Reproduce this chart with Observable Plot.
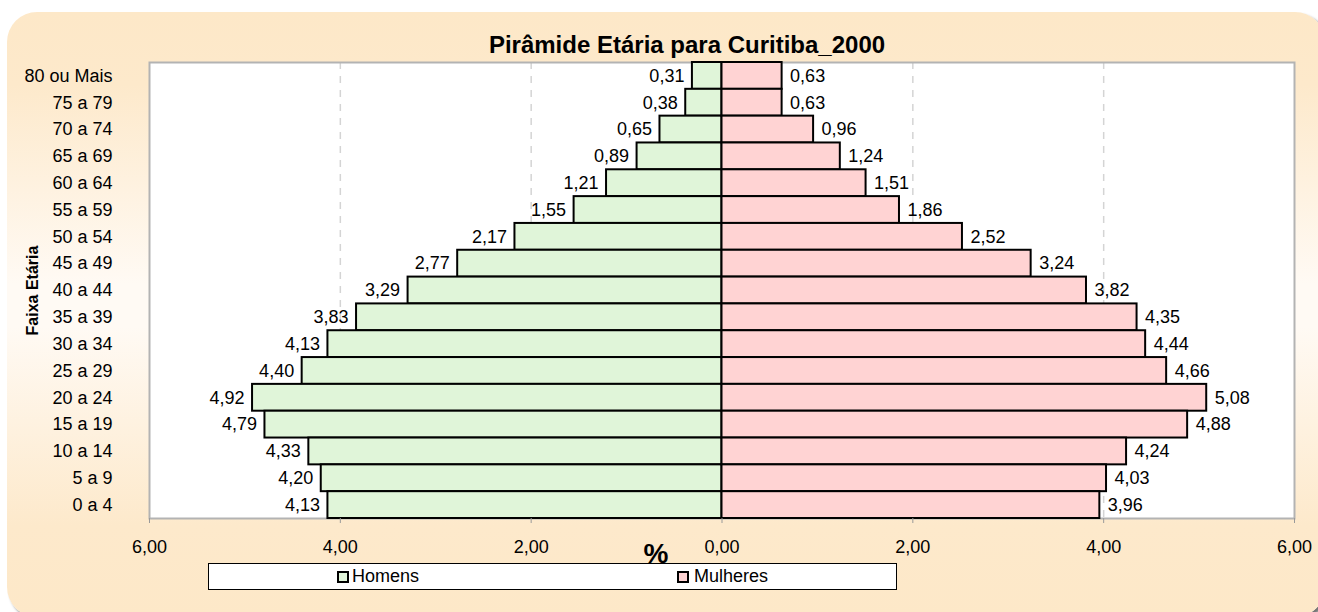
<!DOCTYPE html>
<html><head><meta charset="utf-8">
<script src="https://cdn.jsdelivr.net/npm/d3@7"></script>
<script src="https://cdn.jsdelivr.net/npm/@observablehq/plot@0.6"></script>
<style>
body{margin:0;background:#fff;}
#wrap{position:relative;width:1318px;height:612px;overflow:hidden;font-family:"Liberation Sans",Arial,sans-serif;}
#bg{position:absolute;left:7px;top:12px;width:1318px;height:605px;border-radius:30px;
  background:linear-gradient(to bottom,#fde8c8 0%,#fde9cb 12%,#fffaf4 45%,#fffaf4 52%,#fde9cb 85%,#fde8c8 100%);
  box-shadow:3px 3px 3px rgba(0,0,0,0.55);}
#title{position:absolute;left:0;top:33px;width:1374px;text-align:center;font-size:24px;line-height:24px;font-weight:bold;color:#000;}
#chart{position:absolute;left:0;top:0;}
#legend{position:absolute;left:208px;top:563px;width:689px;height:27px;box-sizing:border-box;border:1px solid #000;background:#fff;font-size:18px;}
.sw{position:absolute;top:7px;width:12px;height:12px;box-sizing:border-box;border:2px solid #000;}
.lt{position:absolute;top:0;line-height:25px;}
</style>
</head><body>
<div id="wrap">
  <div id="bg"></div>
  <div id="chart"></div>
  <div id="title">Pirâmide Etária para Curitiba_2000</div>
  <div id="legend">
    <div class="sw" style="left:128px;background:#e0f5d9"></div><div class="lt" style="left:143px">Homens</div>
    <div class="sw" style="left:468px;background:#ffd3d3"></div><div class="lt" style="left:485px">Mulheres</div>
  </div>
</div>
<script>
const faixas = ["80 ou Mais","75 a 79","70 a 74","65 a 69","60 a 64","55 a 59","50 a 54","45 a 49","40 a 44","35 a 39","30 a 34","25 a 29","20 a 24","15 a 19","10 a 14","5 a 9","0 a 4"];
const homens   = [0.31,0.38,0.65,0.89,1.21,1.55,2.17,2.77,3.29,3.83,4.13,4.40,4.92,4.79,4.33,4.20,4.13];
const mulheres = [0.63,0.63,0.96,1.24,1.51,1.86,2.52,3.24,3.82,4.35,4.44,4.66,5.08,4.88,4.24,4.03,3.96];
const xTicks = [-6,-4,-2,0,2,4,6];
const gridTicks = [-4,-2,2,4];

const data = faixas.map((f,i)=>({faixa:f, h:homens[i], m:mulheres[i]}));
const fmt = v => Math.abs(v).toFixed(2).replace(".", ",");
const FONT = '"Liberation Sans", Arial, sans-serif';

const chart = Plot.plot({
  width: 1318, height: 612,
  marginLeft: 149, marginRight: 24, marginTop: 62, marginBottom: 94,
  style: {background: "transparent", fontFamily: FONT, fontSize: "18px", color: "#000"},
  x: {domain: [-6, 6]},
  y: {domain: faixas, padding: 0, round: false},
  marks: [
    Plot.frame({fill: "white"}),
    Plot.ruleX(gridTicks, {stroke: "#d4d4d4", strokeWidth: 1.5, strokeDasharray: "7,7"}),
    Plot.frame({stroke: "#b3b3b3", strokeWidth: 2}),
    Plot.barX(data, {y: "faixa", x1: 0, x2: d => -d.h, fill: "#e0f5d9", stroke: "#000", strokeWidth: 2}),
    Plot.barX(data, {y: "faixa", x1: 0, x2: d => d.m, fill: "#ffd3d3", stroke: "#000", strokeWidth: 2}),
    Plot.text(data, {y: "faixa", x: d => -d.h, text: d => fmt(d.h), textAnchor: "end", dx: -8, fontSize: 18, fill: "#000"}),
    Plot.text(data, {y: "faixa", x: d => d.m, text: d => fmt(d.m), textAnchor: "start", dx: 8, fontSize: 18, fill: "#000"}),
    Plot.axisX({ticks: xTicks, tickSize: 5, tickFormat: () => "", stroke: "#999", label: null}),
    Plot.axisX({ticks: xTicks, tickSize: 0, tickPadding: 22, tickFormat: fmt, fontSize: 18, fill: "#000", label: null}),
    Plot.axisY({tickSize: 0, tickPadding: 37, fontSize: 18, fill: "#000", label: null}),
    Plot.text(["%"], {frameAnchor: "bottom", text: d => d, dx: -66, dy: 44, lineAnchor: "bottom", fontSize: 28, fontWeight: "bold", fill: "#000"}),
    Plot.text(["Faixa Etária"], {frameAnchor: "left", text: d => d, rotate: -90, textAnchor: "middle", lineAnchor: "middle", dx: -117, fontSize: 16, fontWeight: "bold", fill: "#000"})
  ]
});
document.getElementById("chart").appendChild(chart);
</script>
</body></html>
